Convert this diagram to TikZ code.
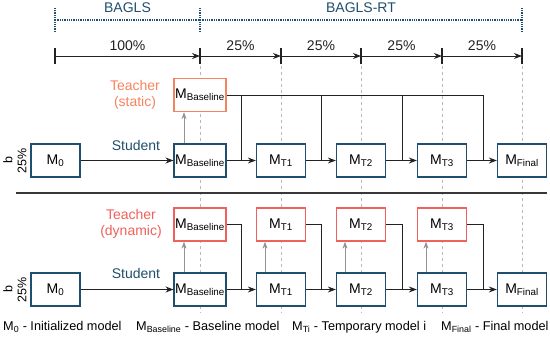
\documentclass[tikz,border=0pt]{standalone}
\usepackage{fontspec}
\setmainfont{Liberation Sans}
\usepackage{xcolor}
\usetikzlibrary{arrows.meta, positioning, backgrounds}

\definecolor{stublue}{HTML}{1F4E6E}
\definecolor{statorange}{HTML}{F4845F}
\definecolor{dynred}{HTML}{F0605C}
\definecolor{darkline}{HTML}{222222}

\begin{document}
\begin{tikzpicture}[
  x=1pt, y=-1pt,
  model/.style={
    rectangle, draw=stublue, fill=white, line width=1.3pt,
    minimum width=49pt, minimum height=33pt, inner sep=1pt,
    font=\fontsize{14}{16}\selectfont
  },
  statbox/.style={model, draw=statorange},
  dynbox/.style={model, draw=dynred},
  arrow/.style={-{Stealth[length=8pt, width=6pt]}, line width=1pt, darkline},
  link/.style={line width=1pt, darkline},
  garrow/.style={-{Stealth[length=7pt, width=5pt]}, line width=1pt, gray!85},
  guide/.style={dashed, gray!55, line width=0.9pt},
  phase/.style={densely dotted, stublue, line width=1.3pt},
  lbl/.style={font=\fontsize{14}{16}\selectfont, align=center},
  legend/.style={font=\fontsize{12.7}{15}\selectfont, anchor=west, inner sep=0pt}
]
\useasboundingbox (0,0) rectangle (550,338);

% ---- Phases ----
\coordinate (p0) at (55,20);
\coordinate (p1) at (200,20);
\coordinate (p2) at (522,20);
\draw[phase] (p0) -- (p2);
\foreach \p in {p0,p1,p2}
  \draw[phase] ([yshift=-12pt]\p) -- ([yshift=12pt]\p);
\node[lbl, text=stublue] (bagls)  at (127.5,8) {BAGLS};
\node[lbl, text=stublue] (baglsrt) at (361,8) {BAGLS-RT};

% ---- Scale ----
\foreach \n/\x in {0/55, 1/200, 2/281, 3/361, 4/442, 5/522} {
  \coordinate (t\n) at (\x,56);
  \draw[line width=1.3pt, darkline] (\x,48) -- (\x,64);
}
\draw[arrow] (t0) -- (t1) node[lbl, midway, above=2pt] {100\%};
\draw[arrow] (t1) -- (t2) node[lbl, midway, above=2pt] {25\%};
\draw[arrow] (t2) -- (t3) node[lbl, midway, above=2pt] {25\%};
\draw[arrow] (t3) -- (t4) node[lbl, midway, above=2pt] {25\%};
\draw[arrow] (t4) -- (t5) node[lbl, midway, above=2pt] {25\%};

% ---- Static teacher ----
\node[statbox] (tb) at (200,95) {M\textsubscript{Baseline}};
\node[lbl, text=statorange] (tslbl) at (135,95) {Teacher\\(static)};
\node[lbl, text=stublue] (stulblA) at (136,145) {Student};
\node[lbl, rotate=90, font=\fontsize{12.5}{14}\selectfont] (bA) at (15,160.5) {b\\25\%};

\node[model] (a0) at (55.5,160.5) {M\textsubscript{0}};
\node[model] (ab) at (200,160.5)  {M\textsubscript{Baseline}};
\node[model] (a1) at (281,160.5)  {M\textsubscript{T1}};
\node[model] (a2) at (361,160.5)  {M\textsubscript{T2}};
\node[model] (a3) at (442,160.5)  {M\textsubscript{T3}};
\node[model] (af) at (522,160.5)  {M\textsubscript{Final}};

\coordinate (j1) at (241,160.5);
\coordinate (j2) at (321,160.5);
\coordinate (j3) at (402,160.5);
\coordinate (j4) at (483,160.5);

\draw[arrow] (a0) -- (ab);
\draw[arrow] (ab) -- (a1);
\draw[arrow] (a1) -- (a2);
\draw[arrow] (a2) -- (a3);
\draw[arrow] (a3) -- (af);

\draw[link] (tb.east) -| (j4);
\foreach \j in {j1,j2,j3}
  \draw[link] (tb.east -| \j) -- (\j);
\draw[garrow] ([xshift=-16pt]ab.north) -- ([xshift=-16pt]tb.south);

% ---- Separator ----
\coordinate (sepl) at (16,193);
\coordinate (sepr) at (547,193);
\draw[line width=2pt, darkline!90] (sepl) -- (sepr);

% ---- Dynamic teacher ----
\node[lbl, text=dynred] (tdlbl) at (131,224) {Teacher\\(dynamic)};
\node[lbl, text=stublue] (stulblB) at (136,273) {Student};
\node[lbl, rotate=90, font=\fontsize{12.5}{14}\selectfont] (bB) at (15,289.5) {b\\25\%};

\node[dynbox] (db) at (200,224.5) {M\textsubscript{Baseline}};
\node[dynbox] (d1) at (281,224.5) {M\textsubscript{T1}};
\node[dynbox] (d2) at (361,224.5) {M\textsubscript{T2}};
\node[dynbox] (d3) at (442,224.5) {M\textsubscript{T3}};

\node[model] (b0) at (55.5,289.5) {M\textsubscript{0}};
\node[model] (bb) at (200,289.5)  {M\textsubscript{Baseline}};
\node[model] (b1) at (281,289.5)  {M\textsubscript{T1}};
\node[model] (b2) at (361,289.5)  {M\textsubscript{T2}};
\node[model] (b3) at (442,289.5)  {M\textsubscript{T3}};
\node[model] (bf) at (522,289.5)  {M\textsubscript{Final}};

\coordinate (k1) at (241,289.5);
\coordinate (k2) at (321,289.5);
\coordinate (k3) at (402,289.5);
\coordinate (k4) at (483,289.5);

\draw[arrow] (b0) -- (bb);
\draw[arrow] (bb) -- (b1);
\draw[arrow] (b1) -- (b2);
\draw[arrow] (b2) -- (b3);
\draw[arrow] (b3) -- (bf);

\draw[link] (db.east) -| (k1);
\draw[link] (d1.east) -| (k2);
\draw[link] (d2.east) -| (k3);
\draw[link] (d3.east) -| (k4);

\draw[garrow] ([xshift=-16pt]bb.north) -- ([xshift=-16pt]db.south);
\draw[garrow] ([xshift=-16pt]b1.north) -- ([xshift=-16pt]d1.south);
\draw[garrow] ([xshift=-16pt]b2.north) -- ([xshift=-16pt]d2.south);
\draw[garrow] ([xshift=-16pt]b3.north) -- ([xshift=-16pt]d3.south);

% ---- Guides ----
\begin{scope}[on background layer]
  \foreach \x in {200,281,361,442,522}
    \draw[guide] (\x,66) -- (\x,313);
\end{scope}

% ---- Legend ----
\node[legend] (leg0) at (3,327)   {M\textsubscript{0} - Initialized model};
\node[legend] (legb) at (136,327) {M\textsubscript{Baseline} - Baseline model};
\node[legend] (legt) at (292,327) {M\textsubscript{Ti} - Temporary model i};
\node[legend] (legf) at (441,327) {M\textsubscript{Final} - Final model};

\end{tikzpicture}
\end{document}
